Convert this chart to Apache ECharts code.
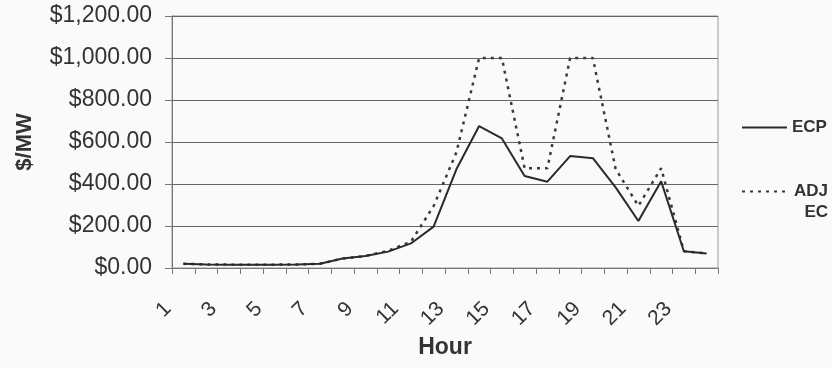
<!DOCTYPE html>
<html>
<head>
<meta charset="utf-8">
<script src="https://cdn.jsdelivr.net/npm/echarts@6/dist/echarts.min.js"></script>
<style>
  html, body { margin: 0; padding: 0; background: #fafafa; }
  #main { width: 832px; height: 368px; }
</style>
</head>
<body>
<div id="main"></div>
<script>
// hours on the x axis
var hours = ['1', '2', '3', '4', '5', '6', '7', '8', '9', '10', '11', '12',
             '13', '14', '15', '16', '17', '18', '19', '20', '21', '22', '23', '24'];

// $/MW
var ecp = [20, 17, 16, 16, 16, 17, 20, 45, 57, 78, 117, 197,
           470, 676, 617, 438, 411, 533, 523, 384, 224, 413, 80, 69];
var adjEc = [20, 17, 16, 16, 16, 17, 20, 45, 57, 82, 125, 295,
             550, 1000, 1000, 475, 475, 1000, 1000, 472, 296, 475, 80, 69];

var FONT = '"Liberation Sans", Arial, sans-serif';
var TEXT = '#333';

var chart = echarts.init(document.getElementById('main'), null, { renderer: 'canvas' });

function money(v) {
    var s = Math.round(v).toString().replace(/\B(?=(\d{3})+(?!\d))/g, ',');
    return '$' + s + '.00';
}

// legend shows only the line, no symbol
var legendItem = { color: 'transparent', borderColor: 'transparent', borderWidth: 0 };

var option = {
    backgroundColor: '#fafafa',
    animation: false,
    textStyle: { fontFamily: FONT },
    grid: {
        left: 172,
        right: 114,
        top: 16,
        bottom: 100,
        outerBoundsMode: 'none',
        show: true,
        borderColor: '#999',
        borderWidth: 1
    },
    legend: [
        {
            data: ['ECP'],
            orient: 'vertical',
            left: 741,
            top: 117,
            padding: 0,
            itemWidth: 45,
            itemHeight: 14,
            itemStyle: legendItem,
            textStyle: { color: TEXT, fontSize: 17, fontWeight: 'bold', fontFamily: FONT, lineHeight: 21 }
        },
        {
            data: ['ADJ EC'],
            orient: 'vertical',
            left: 741,
            top: 160,
            padding: 0,
            itemWidth: 45,
            itemHeight: 14,
            itemStyle: legendItem,
            formatter: function () { return '{a|ADJ}\n{a|EC}'; },
            textStyle: {
                color: TEXT, fontSize: 17, fontWeight: 'bold', fontFamily: FONT, lineHeight: 21,
                padding: [21, 0, 0, 0],
                rich: {
                    a: { width: 36, align: 'right', color: TEXT, fontSize: 17, fontWeight: 'bold', fontFamily: FONT, lineHeight: 21 }
                }
            }
        }
    ],
    xAxis: {
        type: 'category',
        data: hours,
        boundaryGap: true,
        name: 'Hour',
        nameLocation: 'middle',
        nameGap: 68,
        nameTextStyle: { color: TEXT, fontSize: 23, fontWeight: 'bold', fontFamily: FONT },
        axisLine: { lineStyle: { color: '#777', width: 1 } },
        axisTick: { show: true, interval: 0, length: 6, lineStyle: { color: '#777' } },
        axisLabel: {
            interval: 1,
            rotate: 45,
            margin: 22,
            padding: [0, 22, 0, 0],
            color: TEXT,
            fontSize: 21,
            fontFamily: FONT
        },
        splitLine: { show: false }
    },
    yAxis: {
        type: 'value',
        min: 0,
        max: 1200,
        interval: 200,
        name: '$/MW',
        nameLocation: 'middle',
        nameGap: 136,
        nameRotate: 90,
        nameTextStyle: { color: TEXT, fontSize: 22, fontWeight: 'bold', fontFamily: FONT },
        axisLine: { show: true, lineStyle: { color: '#777', width: 1 } },
        axisTick: { show: true, length: 7, lineStyle: { color: '#777' } },
        axisLabel: {
            margin: 20,
            color: TEXT,
            fontSize: 23,
            fontFamily: FONT,
            formatter: money
        },
        splitLine: { lineStyle: { color: '#666', width: 1 } }
    },
    series: [
        {
            name: 'ECP',
            type: 'line',
            data: ecp,
            symbol: 'none',
            lineStyle: { color: '#2a2a2a', width: 2, type: 'solid' },
            itemStyle: { color: '#2a2a2a' },
            z: 3
        },
        {
            name: 'ADJ EC',
            type: 'line',
            data: adjEc,
            symbol: 'none',
            lineStyle: { color: '#3a3a3a', width: 2.5, type: [3, 5] },
            itemStyle: { color: '#3a3a3a' },
            z: 2
        }
    ]
};

chart.setOption(option);

window.addEventListener('resize', function () {
    chart.resize();
});
</script>
</body>
</html>
